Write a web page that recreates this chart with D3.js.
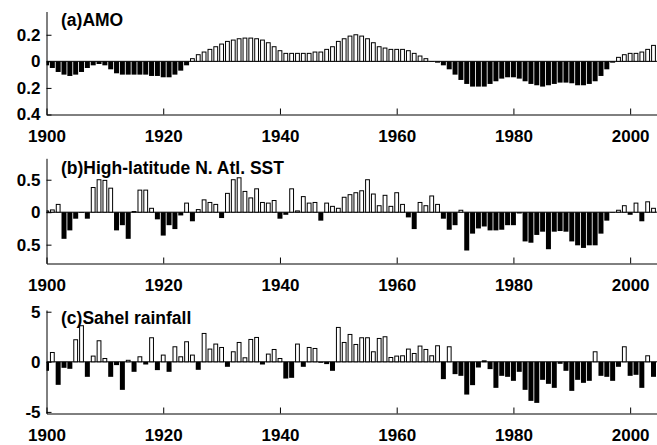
<!DOCTYPE html>
<html>
<head>
<meta charset="utf-8">
<script src="https://cdn.jsdelivr.net/npm/d3@7"></script>
<style>
  body { margin: 0; background: #fff; }
  svg { display: block; font-family: "Liberation Sans", Arial, sans-serif; }
  .axis text { font-size: 17px; font-weight: bold; fill: #000; }
  .axis path, .axis line { stroke: #000; stroke-width: 1; }
  .title { font-size: 17.5px; font-weight: bold; }
</style>
</head>
<body>
<script>
var w = 657, h = 445;

var years = d3.range(1900, 2005);

// (a) AMO, 1900-2004
var amo = [
  -0.03, -0.05, -0.08, -0.10, -0.11, -0.10, -0.08, -0.05, -0.03, -0.02,
  -0.03, -0.06, -0.09, -0.10, -0.10, -0.10, -0.10, -0.10, -0.11, -0.11,
  -0.12, -0.12, -0.10, -0.07, -0.03, 0.02, 0.05, 0.07, 0.09, 0.11,
  0.13, 0.15, 0.16, 0.17, 0.175, 0.175, 0.17, 0.16, 0.14, 0.11,
  0.08, 0.06, 0.06, 0.06, 0.06, 0.06, 0.07, 0.07, 0.09, 0.11,
  0.15, 0.17, 0.19, 0.20, 0.19, 0.17, 0.14, 0.11, 0.10, 0.09,
  0.09, 0.09, 0.08, 0.06, 0.04, 0.02, -0.005, -0.01, -0.03, -0.06,
  -0.10, -0.14, -0.17, -0.19, -0.19, -0.19, -0.17, -0.15, -0.13, -0.12,
  -0.12, -0.13, -0.15, -0.17, -0.18, -0.19, -0.18, -0.17, -0.16, -0.16,
  -0.165, -0.18, -0.18, -0.17, -0.15, -0.11, -0.06, -0.01, 0.03, 0.05,
  0.06, 0.06, 0.07, 0.09, 0.12
];

// (b) High-latitude N. Atl. SST, 1900-2004
var sst = [
  0.02, 0.035, 0.12, -0.41, -0.28, -0.10, -0.01, -0.10, 0.38, 0.50,
  0.49, 0.37, -0.28, -0.20, -0.41, 0.01, 0.34, 0.34, 0.06, -0.11,
  -0.36, -0.20, -0.26, -0.05, 0.14, -0.14, 0.04, 0.19, 0.15, 0.12,
  -0.09, 0.29, 0.50, 0.53, 0.32, 0.22, 0.36, 0.15, 0.14, 0.18,
  -0.10, -0.04, 0.36, 0.02, 0.24, 0.14, 0.15, -0.13, 0.14, 0.09,
  0.06, 0.23, 0.27, 0.30, 0.33, 0.50, 0.28, 0.10, 0.26, 0.09,
  0.30, 0.12, -0.08, -0.26, 0.15, 0.10, 0.25, 0.12, -0.10, -0.27,
  -0.20, 0.03, -0.59, -0.33, -0.25, -0.22, -0.28, -0.28, -0.27, -0.20,
  -0.20, -0.02, -0.45, -0.47, -0.35, -0.30, -0.57, -0.30, -0.29, -0.30,
  -0.45, -0.51, -0.55, -0.51, -0.51, -0.33, -0.13, -0.01, 0.03, 0.10,
  -0.04, 0.14, -0.14, 0.16, 0.06
];

// (c) Sahel rainfall, 1900-2004
var sahel = [
  -0.9, 0.93, -2.3, -0.6, -0.7, 2.2, 3.6, -1.5, 0.57, 2.1,
  0.33, -1.5, -0.33, -2.8, 0.15, -1.0, 0.5, -0.27, 2.4, -0.83,
  0.67, -1.0, 1.5, 0.5, 2.0, 0.67, -0.8, 2.83, 1.27, 1.77,
  1.43, -0.5, 1.0, 1.93, 0.4, 2.23, 2.43, -0.27, 0.77, 1.23,
  0.33, -1.67, -1.6, 1.77, -0.5, 1.43, 1.33, -0.1, -0.23, -0.9,
  3.43, 1.93, 2.73, 1.73, 2.4, 2.4, 1.0, 2.33, 2.5, 0.43,
  0.57, 0.6, 1.27, 0.83, 1.57, 1.23, 0.6, 1.6, -1.73, 1.5,
  -1.23, -1.4, -3.27, -2.33, -0.57, 0.1, -0.73, -2.6, -1.4, -1.5,
  -1.9, -1.0, -2.8, -3.9, -4.1, -1.8, -2.2, -2.6, -0.2, -0.9,
  -2.9, -1.8, -2.1, -1.9, 1.0, -1.4, -1.5, -1.9, -0.5, 1.5,
  -1.4, -1.3, -2.6, 0.6, -1.5
];

var xTicks = [1900, 1920, 1940, 1960, 1980, 2000];
var amoTicks = [-0.4, -0.2, 0, 0.2];
var sstTicks = [-0.5, 0, 0.5];
var sahelTicks = [-5, 0, 5];

var x = d3.scaleLinear()
    .domain([1900, 2004.6])
    .range([46.5, w]);

var step = x(1901) - x(1900);

var svg = d3.select("body").append("svg")
    .attr("width", w)
    .attr("height", h);

var panels = [
  {id: "a", title: "(a)AMO", values: amo, ticks: amoTicks,
   domain: [-0.4, 0.375], top: 11.5, bottom: 114.5, titleY: 26,
   fmt: function(d) { return d === 0 ? "0" : d3.format(".1f")(Math.abs(d)); }},
  {id: "b", title: "(b)High-latitude N. Atl. SST", values: sst, ticks: sstTicks,
   domain: [-0.79, 0.83], top: 158.3, bottom: 263.5, titleY: 174,
   fmt: function(d) { return d === 0 ? "0" : d3.format(".1f")(Math.abs(d)); }},
  {id: "c", title: "(c)Sahel rainfall", values: sahel, ticks: sahelTicks,
   domain: [-5.16, 5.17], top: 310, bottom: 413.5, titleY: 324,
   fmt: function(d) { return d < 0 ? "-" + Math.abs(d) : String(d); }}
];

panels.forEach(function(p) {
  var y = d3.scaleLinear()
      .domain(p.domain)
      .range([p.bottom, p.top]);

  var g = svg.append("g").attr("class", "panel-" + p.id);

  g.append("clipPath")
      .attr("id", "clip-" + p.id)
    .append("rect")
      .attr("x", x.range()[0])
      .attr("y", p.top)
      .attr("width", w - x.range()[0])
      .attr("height", p.bottom - p.top);

  var data = years.map(function(yr, i) { return {year: yr, value: p.values[i]}; });

  var bars = g.append("g").attr("clip-path", "url(#clip-" + p.id + ")");

  // zero line
  bars.append("line")
      .attr("x1", x.range()[0]).attr("x2", w)
      .attr("y1", y(0)).attr("y2", y(0))
      .attr("stroke", "#000")
      .attr("stroke-width", 1);

  // negative bars: solid black
  bars.selectAll("rect.neg")
      .data(data.filter(function(d) { return d.value < 0; }))
      .enter().append("rect")
      .attr("class", "neg")
      .attr("x", function(d) { return x(d.year) - 2.5; })
      .attr("width", 5)
      .attr("y", y(0))
      .attr("height", function(d) { return y(d.value) - y(0); })
      .attr("fill", "#000");

  // positive bars: white with black outline
  bars.selectAll("rect.pos")
      .data(data.filter(function(d) { return d.value >= 0; }))
      .enter().append("rect")
      .attr("class", "pos")
      .attr("x", function(d) { return x(d.year) - 1.9; })
      .attr("width", 3.8)
      .attr("y", function(d) { return y(d.value); })
      .attr("height", function(d) { return y(0) - y(d.value); })
      .attr("fill", "#fff")
      .attr("stroke", "#000")
      .attr("stroke-width", 1);

  g.append("g")
      .attr("class", "axis")
      .attr("transform", "translate(0," + p.bottom + ")")
      .call(d3.axisBottom(x)
        .tickValues(xTicks)
        .tickFormat(d3.format("d"))
        .tickSize(-6)
        .tickSizeOuter(0)
        .tickPadding(15));

  g.append("g")
      .attr("class", "axis")
      .attr("transform", "translate(" + x.range()[0] + ",0)")
      .call(d3.axisLeft(y)
        .tickValues(p.ticks)
        .tickFormat(p.fmt)
        .tickSize(-5)
        .tickSizeOuter(0)
        .tickPadding(6));

  g.append("text")
      .attr("class", "title")
      .attr("x", 61)
      .attr("y", p.titleY)
      .text(p.title);
});
</script>
</body>
</html>
